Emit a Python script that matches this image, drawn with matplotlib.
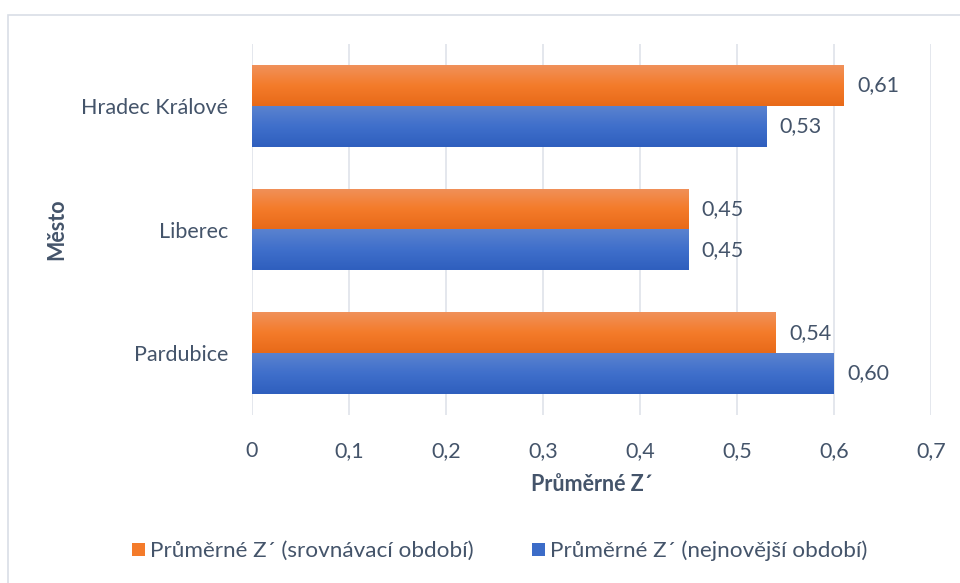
import numpy as np
import matplotlib
matplotlib.use("Agg")
import matplotlib.pyplot as plt
from matplotlib.patches import Rectangle
from matplotlib.colors import LinearSegmentedColormap

categories = ["Pardubice", "Liberec", "Hradec Králové"]
srovnavaci = [0.54, 0.45, 0.61]
nejnovejsi = [0.60, 0.45, 0.53]
series_names = ["Průměrné Z´ (srovnávací období)", "Průměrné Z´ (nejnovější období)"]
xticks = [0, 0.1, 0.2, 0.3, 0.4, 0.5, 0.6, 0.7]
xticklabels = ["0", "0,1", "0,2", "0,3", "0,4", "0,5", "0,6", "0,7"]

plt.rcParams['font.family'] = ['Lato', 'DejaVu Sans']
txt = "#44546a"
FS = 15.5

fig = plt.figure(figsize=(9.6, 5.83), dpi=100)
ax = fig.add_axes([252/960, 1-415/583, (931-252)/960, (415-44)/583])

# outer chart border
fig.patches.append(Rectangle((8/960, 0 - 0.05), 1.0, 1 - 15/583 + 0.05, transform=fig.transFigure,
                             fill=False, edgecolor="#d9dee6", lw=1.2))

y = np.arange(len(categories))
h = 0.33
b1 = ax.barh(y + h/2, srovnavaci, height=h, color="#f47b2a", label=series_names[0], zorder=2)
b2 = ax.barh(y - h/2, nejnovejsi, height=h, color="#3c6cc8", label=series_names[1], zorder=2)

cm_or = LinearSegmentedColormap.from_list("o", ["#e86a19", "#f47b2a", "#f0915a"])
cm_bl = LinearSegmentedColormap.from_list("b", ["#2f5fbe", "#3f6fcb", "#5a82cf"])
grad = np.linspace(0, 1, 64).reshape(-1, 1)
for bars, cm in ((b1, cm_or), (b2, cm_bl)):
    for p in bars:
        x0, y0 = p.get_x(), p.get_y()
        w, hh = p.get_width(), p.get_height()
        im = ax.imshow(grad, cmap=cm, origin="lower", aspect="auto",
                       extent=(x0, x0 + w, y0, y0 + hh), zorder=3)
        im.set_clip_path(p)

for bars, vals in ((b1, srovnavaci), (b2, nejnovejsi)):
    for p, v in zip(bars, vals):
        ax.annotate(f"{v:.2f}".replace(".", ","), (p.get_width(), p.get_y() + p.get_height()/2),
                    xytext=(9.5, 0), textcoords="offset points", ha="left", va="center",
                    fontsize=FS, color=txt)

ax.set_xlim(0, 0.7)
ax.set_ylim(-0.5, 2.5)
ax.set_xticks(xticks)
ax.set_xticklabels(xticklabels)
ax.set_yticks(y)
ax.set_yticklabels(categories)
ax.tick_params(axis="both", length=0, labelsize=FS, labelcolor=txt)
ax.tick_params(axis="x", pad=19)
ax.tick_params(axis="y", pad=17)
ax.grid(axis="x", color="#dfe3ea", lw=1.2, zorder=0)
ax.set_axisbelow(True)
for s in ax.spines.values():
    s.set_visible(False)

ax.set_xlabel("Průměrné Z´", fontsize=FS, fontweight="bold", color=txt, labelpad=9)
fig.text(57/960, 1-229/583, "Město", rotation=90, ha="center", va="center",
         fontsize=FS, fontweight="bold", color=txt)

leg = fig.legend(handles=[b1, b2], labels=series_names, loc="center",
                 bbox_to_anchor=(500/960, 1-551/583), ncol=2, frameon=False,
                 fontsize=16.2, handlelength=0.55, handleheight=0.55, handletextpad=0.25,
                 columnspacing=2.6, labelcolor=txt)

fig.savefig("out.png", dpi=100)
